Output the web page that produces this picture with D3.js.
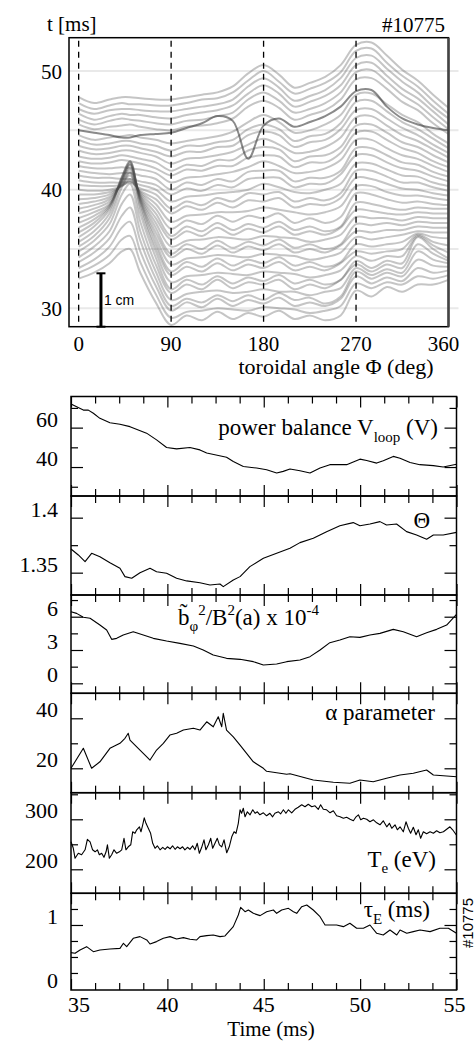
<!DOCTYPE html>
<html>
<head>
<meta charset="utf-8">
<script src="https://cdn.jsdelivr.net/npm/d3@7"></script>
<style>
  body { margin: 0; background: #fff; }
</style>
</head>
<body>
<svg id="chart" width="475" height="1041"></svg>
<script>
// ---------- waterfall: toroidal displacement vs angle, stacked by time ----------
const angleGrid = [0,15,30,42,50,60,75,90,105,120,135,150,165,180,195,210,225,240,255,270,285,300,315,330,345,360];
const traceTimes = [30,30.5,31,31.5,32,32.5,33,33.5,34,34.5,35,35.5,36,36.5,37,37.5,38,38.5,39,39.5,40,40.5,41,41.5,42,42.5,43,43.5,44,44.5,45,45.5,46,46.5,47,47.5,48];
// displacement of each trace, in time-axis units (1 cm = 4.5 ms)
const traceShift = [
  [2.5,3.0,3.8,4.8,5.0,3.0,0.5,-1.4,-0.6,-1.0,-0.3,-0.9,-0.4,-0.7,-0.2,-0.9,-0.6,-1.0,-0.6,1.5,1.0,1.8,1.4,2.0,2.0,2.4],
  [2.5,3.1,4.0,5.3,5.6,3.4,0.7,-1.3,-0.8,-0.7,-0.5,-0.6,-0.7,-0.4,-0.5,-0.6,-0.9,-0.7,-0.3,1.6,1.2,1.7,1.5,2.2,2.0,2.3],
  [2.4,3.1,4.2,5.8,6.3,3.8,0.9,-1.2,-0.5,-0.9,-0.2,-0.8,-0.3,-0.6,-0.1,-0.8,-0.5,-0.8,-0.2,1.7,1.1,1.6,1.3,2.4,2.0,2.2],
  [2.4,3.2,4.4,6.3,7.0,4.2,1.0,-1.3,-0.7,-1.0,-0.4,-0.9,-0.4,-0.8,-0.2,-0.8,-0.6,-1.1,-0.5,1.6,1.0,1.5,1.2,2.6,2.1,2.0],
  [2.3,3.2,4.5,6.8,7.6,4.5,1.1,-1.3,-0.8,-0.6,-0.5,-0.7,-0.6,-0.4,-0.6,-0.6,-0.9,-0.6,-0.3,1.4,0.8,1.3,1.0,2.8,2.1,1.8],
  [2.3,3.2,4.6,7.1,8.0,4.8,1.2,-1.2,-0.5,-0.9,-0.1,-0.8,-0.3,-0.5,-0.1,-0.9,-0.5,-0.8,-0.1,1.2,0.6,1.2,0.9,2.9,2.1,1.5],
  [2.2,3.1,4.6,7.2,8.4,5.0,1.3,-1.4,-0.6,-1.0,-0.3,-0.9,-0.4,-0.7,-0.2,-0.9,-0.6,-1.0,-0.6,1.0,0.4,1.0,0.8,3.0,2.0,1.2],
  [2.1,3.0,4.5,7.2,8.6,5.0,1.3,-1.3,-0.8,-0.7,-0.5,-0.6,-0.7,-0.4,-0.5,-0.6,-0.9,-0.7,-0.3,0.9,0.5,0.9,0.9,2.6,1.8,1.2],
  [2.0,2.9,4.3,7.0,8.4,4.8,1.2,-1.2,-0.5,-0.9,-0.2,-0.8,-0.3,-0.6,-0.1,-0.8,-0.5,-0.8,-0.2,0.8,0.6,0.8,1.0,2.2,1.6,1.3],
  [1.9,2.7,4.0,6.6,7.9,4.5,1.1,-1.4,-0.6,-1.0,-0.3,-0.9,-0.4,-0.7,-0.2,-0.9,-0.6,-1.0,-0.6,0.9,0.7,0.9,1.1,1.8,1.5,1.4],
  [1.8,2.5,3.6,6.0,7.3,4.1,1.0,-1.3,-0.8,-0.7,-0.5,-0.6,-0.7,-0.4,-0.5,-0.6,-0.9,-0.7,-0.3,1.0,0.8,1.0,1.2,1.5,1.4,1.4],
  [1.7,2.3,3.2,5.4,6.7,3.7,0.9,-1.2,-0.5,-0.9,-0.2,-0.8,-0.3,-0.6,-0.1,-0.8,-0.5,-0.8,-0.2,1.0,0.9,1.1,1.1,1.4,1.3,1.3],
  [1.6,2.1,2.8,4.8,6.1,3.3,0.8,-1.4,-0.6,-1.0,-0.3,-0.9,-0.4,-0.7,-0.2,-0.9,-0.6,-1.0,-0.6,1.1,1.0,1.2,1.0,1.3,1.2,1.2],
  [1.5,1.9,2.5,4.2,5.4,2.9,0.7,-1.3,-0.8,-0.7,-0.5,-0.6,-0.7,-0.4,-0.5,-0.6,-0.9,-0.7,-0.3,1.2,1.1,1.1,0.9,1.2,1.1,1.1],
  [1.4,1.7,2.2,3.6,4.7,2.5,0.6,-1.2,-0.5,-0.9,-0.2,-0.8,-0.3,-0.6,-0.1,-0.8,-0.5,-0.8,-0.2,1.3,1.2,1.0,0.9,1.1,1.0,1.0],
  [1.3,1.5,1.9,3.0,4.0,2.1,0.5,-1.4,-0.6,-1.0,-0.3,-0.9,-0.4,-0.7,-0.2,-0.9,-0.6,-1.0,-0.6,1.4,1.3,1.0,0.8,1.0,0.9,0.9],
  [1.2,1.3,1.6,2.4,3.2,1.7,0.4,-1.3,-0.6,-0.9,-0.2,-0.7,-0.2,-0.4,0.0,-0.8,-0.4,-0.8,-0.3,1.7,1.6,1.2,0.9,1.0,0.8,0.7],
  [1.1,1.1,1.3,1.8,2.4,1.3,0.3,-1.2,-0.7,-0.6,-0.4,-0.4,-0.3,0.0,-0.2,-0.4,-0.6,-0.4,0.1,1.8,1.8,1.3,1.0,1.0,0.8,0.6],
  [1.0,0.9,1.0,1.3,1.7,0.9,0.2,-1.0,-0.4,-0.7,-0.1,-0.5,0.1,0.0,0.3,-0.5,-0.2,-0.3,0.3,2.0,1.9,1.5,1.1,1.0,0.7,0.5],
  [0.9,0.8,0.8,0.9,1.1,0.6,0.1,-1.1,-0.5,-0.8,-0.2,-0.5,0.2,0.1,0.3,-0.5,-0.2,-0.4,0.2,2.1,2.1,1.6,1.1,1.1,0.7,0.4],
  [0.8,0.6,0.6,0.6,0.7,0.4,0.0,-1.0,-0.6,-0.5,-0.3,-0.2,0.0,0.5,0.2,-0.2,-0.3,0.0,0.5,2.2,2.2,1.7,1.2,1.1,0.6,0.3],
  [0.7,0.5,0.5,0.4,0.4,0.2,-0.1,-0.9,-0.4,-0.6,-0.1,-0.3,0.4,0.5,0.5,-0.3,0.0,0.0,0.8,2.4,2.4,1.8,1.3,1.1,0.6,0.2],
  [0.6,0.4,0.3,0.4,0.4,0.2,-0.1,-1.0,-0.4,-0.6,-0.1,-0.3,0.5,0.6,0.6,-0.3,0.0,0.0,0.6,2.5,2.5,1.9,1.3,1.1,0.5,0.1],
  [0.5,0.3,0.3,0.4,0.3,0.2,-0.1,-0.9,-0.5,-0.4,-0.2,0.0,0.4,0.9,0.5,-0.1,0.0,0.3,1.0,2.7,2.7,2.0,1.4,1.1,0.5,0.0],
  [0.4,0.2,0.3,0.5,0.4,0.2,-0.2,-0.8,-0.3,-0.4,0.0,0.0,0.7,0.9,0.8,-0.1,0.3,0.3,1.1,2.8,2.9,2.2,1.5,1.1,0.4,-0.1],
  [0.3,0.1,0.2,0.4,0.3,0.1,-0.2,-0.9,-0.4,-0.5,0.0,0.0,0.8,1.1,0.9,-0.1,0.3,0.4,1.1,2.9,3.0,2.3,1.5,1.1,0.4,-0.2],
  [0.3,0.0,0.1,0.3,0.3,0.1,-0.2,-0.8,-0.4,-0.3,-0.1,0.2,0.8,1.3,0.8,0.1,0.2,0.6,1.4,3.1,3.2,2.4,1.6,1.1,0.4,-0.3],
  [0.2,-0.1,0.0,0.2,0.2,0.0,-0.3,-0.7,-0.3,-0.3,0.1,0.2,1.1,1.4,1.1,0.1,0.5,0.7,1.6,3.2,3.3,2.5,1.7,1.1,0.3,-0.4],
  [0.2,-0.2,-0.1,0.1,0.1,-0.1,-0.3,-0.7,-0.3,-0.3,0.0,0.2,1.1,1.5,1.1,0.1,0.5,0.7,1.6,3.4,3.5,2.6,1.7,1.1,0.3,-0.5],
  [0.1,-0.3,-0.1,0.0,0.1,-0.1,-0.3,-0.6,-0.4,-0.2,0.0,0.4,1.2,1.8,1.2,0.3,0.5,1.0,1.8,3.5,3.6,2.7,1.8,1.2,0.2,-0.6],
  [0.0,-0.2,-0.4,-0.6,-0.6,-0.4,-0.3,-0.2,0.2,0.6,1.2,0.8,-2.4,0.4,1.0,0.3,0.7,1.2,2.0,3.3,3.4,2.0,1.0,0.5,0.2,0.0],
  [0.0,-0.4,-0.2,-0.1,0.0,-0.2,-0.4,-0.5,-0.2,-0.1,0.1,0.5,1.5,2.0,1.4,0.4,0.8,1.2,2.1,3.8,3.9,3.0,1.9,1.2,0.1,-0.8],
  [-0.1,-0.5,-0.2,0.0,-0.1,-0.2,-0.4,-0.5,-0.2,-0.1,0.2,0.5,1.6,2.2,1.5,0.5,0.8,1.3,2.2,3.9,4.1,3.1,2.0,1.2,0.1,-0.9],
  [-0.1,-0.6,-0.3,-0.1,-0.2,-0.2,-0.4,-0.5,-0.2,0.0,0.2,0.6,1.6,2.3,1.6,0.5,0.9,1.4,2.3,4.0,4.2,3.1,2.0,1.2,0.1,-1.0],
  [-0.2,-0.6,-0.3,-0.2,-0.2,-0.3,-0.4,-0.4,-0.2,0.0,0.2,0.6,1.7,2.4,1.6,0.5,0.9,1.4,2.4,4.1,4.3,3.2,2.1,1.2,0.0,-1.0],
  [-0.2,-0.7,-0.4,-0.2,-0.3,-0.3,-0.4,-0.4,-0.2,0.1,0.2,0.7,1.7,2.5,1.6,0.6,1.0,1.5,2.4,4.2,4.4,3.2,2.1,1.2,0.0,-1.1],
  [-0.2,-0.7,-0.4,-0.2,-0.2,-0.3,-0.4,-0.4,-0.2,0.0,0.2,0.7,1.8,2.5,1.7,0.6,1.0,1.5,2.5,4.2,4.4,3.3,2.1,1.2,0.0,-1.1]
];
const angleTicks = [0, 90, 180, 270, 360];
const probeAngles = [0, 90, 180, 270];
const waterfallGrid = [30, 35, 40, 45, 50];
const waterfallTickLabels = [30, 40, 50];

// ---------- time traces, shot #10775 ----------
const vloop = [[35.0,72.0],[35.64,68.9],[35.9,68.9],[36.16,67.3],[36.5,64.7],[37.02,62.5],[37.54,61.7],[38.06,60.5],[38.92,57.2],[39.44,53.8],[39.96,49.9],[40.48,49.2],[41.17,49.9],[41.69,48.7],[42.04,47.1],[43.07,45.0],[43.42,42.8],[43.94,40.3],[44.63,39.5],[45.15,38.6],[45.67,37.0],[46.01,37.8],[46.36,39.0],[46.88,38.1],[47.4,37.0],[47.92,39.5],[48.43,41.2],[49.3,41.2],[49.99,44.0],[50.34,43.3],[50.86,42.0],[51.2,43.2],[51.72,45.4],[52.07,44.5],[52.59,42.3],[53.1,41.2],[53.8,40.7],[54.31,40.0],[55.0,41.4]];
const theta = [[35.0,1.3715],[35.38,1.3661],[35.73,1.3600],[36.07,1.3676],[36.5,1.3645],[37.02,1.3591],[37.54,1.3540],[37.8,1.3464],[38.15,1.3449],[38.58,1.3500],[39.1,1.3540],[39.44,1.3509],[39.96,1.3495],[40.48,1.3449],[41.0,1.3425],[41.69,1.3409],[42.21,1.3388],[42.73,1.3397],[42.9,1.3373],[43.42,1.3434],[43.77,1.3464],[44.28,1.3555],[44.98,1.3631],[45.67,1.3676],[46.36,1.3722],[46.88,1.3773],[47.57,1.3813],[48.26,1.3873],[48.95,1.3927],[49.64,1.3955],[49.99,1.3927],[50.51,1.3943],[51.03,1.3964],[51.37,1.3934],[51.89,1.3943],[52.41,1.3873],[52.93,1.3843],[53.45,1.3804],[53.8,1.3843],[54.31,1.3843],[55.0,1.3866]];
const bPhi = [[35.0,6.45],[35.29,6.3],[35.64,5.95],[35.99,5.86],[36.5,5.25],[36.85,4.8],[37.11,3.96],[37.37,4.05],[37.71,4.35],[38.23,4.65],[38.75,4.35],[39.27,4.05],[39.96,3.81],[40.65,3.6],[41.35,3.36],[41.86,3.0],[42.38,2.55],[43.07,2.25],[43.77,2.16],[44.46,1.95],[44.98,1.65],[45.67,1.74],[46.19,1.95],[46.88,2.1],[47.4,2.4],[47.92,3.0],[48.43,3.66],[48.95,3.9],[49.47,4.2],[49.99,4.14],[50.51,4.35],[51.03,4.5],[51.72,4.86],[52.24,4.65],[52.93,4.2],[53.45,4.56],[53.97,4.86],[54.49,5.25],[55.0,6.2]];
const alphaParam = [[35.0,20.0],[35.64,28.0],[36.07,20.0],[36.5,22.6],[37.02,28.0],[37.54,30.0],[37.8,32.0],[37.97,34.0],[38.06,31.3],[38.41,28.6],[38.75,26.0],[39.1,23.3],[39.44,27.3],[39.79,30.0],[40.13,33.3],[40.48,34.0],[40.83,35.3],[41.35,36.0],[41.69,35.3],[42.04,38.6],[42.38,36.6],[42.64,40.6],[42.82,36.6],[42.9,42.0],[43.07,35.3],[43.42,32.6],[43.77,29.3],[44.11,26.0],[44.46,22.6],[44.98,20.0],[45.15,18.8],[45.67,18.2],[46.19,17.6],[46.36,17.8],[47.57,15.3],[48.61,14.4],[49.47,14.0],[49.99,15.3],[50.68,14.6],[51.37,16.0],[52.07,17.3],[52.76,18.0],[53.45,19.3],[53.8,17.3],[55.0,16.6]];
const electronTemp = [[35.0,255],[35.12,242],[35.21,222],[35.38,232],[35.55,229],[35.73,239],[35.85,260],[35.99,255],[36.12,239],[36.25,235],[36.37,239],[36.47,229],[36.59,232],[36.71,224],[36.82,235],[36.89,249],[36.99,222],[37.11,229],[37.23,239],[37.37,232],[37.51,235],[37.63,239],[37.75,262],[37.85,239],[37.97,245],[38.10,249],[38.20,275],[38.32,272],[38.41,279],[38.55,285],[38.63,275],[38.72,289],[38.80,303],[38.89,292],[39.01,282],[39.13,272],[39.24,252],[39.36,242],[39.48,247],[39.62,239],[39.76,244],[39.88,240],[40.00,245],[40.14,241],[40.27,247],[40.40,240],[40.52,245],[40.66,241],[40.79,245],[40.91,239],[41.04,244],[41.17,240],[41.31,247],[41.43,239],[41.55,252],[41.66,232],[41.78,244],[41.90,259],[42.00,239],[42.13,249],[42.25,262],[42.35,242],[42.47,252],[42.59,262],[42.70,249],[42.82,245],[42.94,259],[43.08,233],[43.21,245],[43.34,265],[43.46,275],[43.56,272],[43.68,292],[43.77,319],[43.85,312],[43.94,322],[44.03,305],[44.15,315],[44.29,309],[44.43,319],[44.55,312],[44.67,315],[44.80,309],[44.98,313],[45.15,307],[45.32,312],[45.46,305],[45.58,312],[45.76,315],[45.88,311],[46.02,319],[46.15,312],[46.28,319],[46.45,313],[46.62,320],[46.79,324],[46.97,329],[47.14,325],[47.31,330],[47.49,325],[47.66,327],[47.83,320],[47.95,329],[48.09,320],[48.26,319],[48.44,313],[48.61,317],[48.78,307],[48.96,305],[49.13,302],[49.30,304],[49.48,300],[49.65,297],[49.79,305],[49.91,309],[50.03,299],[50.17,302],[50.34,300],[50.51,295],[50.69,299],[50.86,293],[51.03,289],[51.20,297],[51.38,285],[51.52,292],[51.64,282],[51.81,289],[51.93,279],[52.07,285],[52.24,275],[52.38,295],[52.50,282],[52.62,272],[52.76,284],[52.90,269],[53.02,279],[53.14,262],[53.28,275],[53.45,271],[53.63,275],[53.80,272],[53.97,277],[54.14,273],[54.32,275],[54.49,280],[54.66,285],[54.80,279],[55.0,268]];
const tauE = [[35.0,0.568],[35.21,0.557],[35.47,0.609],[35.81,0.661],[36.16,0.583],[36.50,0.609],[37.02,0.625],[37.54,0.635],[37.72,0.714],[37.89,0.661],[38.23,0.792],[38.58,0.818],[38.93,0.766],[39.10,0.703],[39.44,0.740],[39.79,0.792],[40.14,0.818],[40.48,0.781],[40.83,0.802],[41.17,0.776],[41.52,0.766],[41.69,0.818],[42.04,0.833],[42.38,0.844],[42.73,0.818],[42.99,0.828],[43.42,0.974],[43.68,1.156],[43.80,1.276],[44.03,1.208],[44.20,1.234],[44.46,1.182],[44.81,1.146],[45.15,1.208],[45.50,1.234],[45.67,1.182],[45.93,1.234],[46.28,1.260],[46.54,1.208],[46.71,1.182],[46.97,1.286],[47.23,1.313],[47.57,1.234],[47.92,1.130],[48.18,1.000],[48.44,1.000],[48.78,1.000],[49.13,0.974],[49.47,1.026],[49.82,0.948],[50.17,0.948],[50.51,1.000],[50.86,0.870],[51.20,0.844],[51.55,0.922],[51.90,0.844],[52.07,0.922],[52.42,0.870],[52.76,0.896],[53.11,0.922],[53.63,0.896],[54.14,0.948],[54.58,0.948],[55.0,0.870]];
const timeTickLabels = [35, 40, 45, 50, 55];

// ---------- drawing ----------
const SERIF = "Liberation Serif, Times New Roman, serif";
const SANS = "Liberation Sans, Arial, sans-serif";
const svg = d3.select("#chart");
const txt = (parent) => parent.append("text").attr("font-family", SERIF).attr("fill", "#000");

// waterfall panel
const W = { left: 69, right: 448.5, top: 37.7, bottom: 326.7 };
const xAng = d3.scaleLinear().domain([-9.4, 360]).range([W.left, W.right]);
const yT = d3.scaleLinear().domain([28.45, 52.81]).range([W.bottom, W.top]);
const MS_PER_CM = 4.5;

svg.append("defs").append("clipPath").attr("id", "wclip")
  .append("rect").attr("x", W.left).attr("y", W.top)
  .attr("width", W.right - W.left).attr("height", W.bottom - W.top);

svg.append("g").selectAll("line").data(waterfallGrid).join("line")
  .attr("x1", W.left).attr("x2", W.right + 10)
  .attr("y1", d => yT(d)).attr("y2", d => yT(d))
  .attr("stroke", "#e9e9e9").attr("stroke-width", 2);

const traceLine = d3.line()
  .x((d, i) => xAng(angleGrid[i]))
  .y(d => yT(d))
  .curve(d3.curveCatmullRom.alpha(0.5));

const emphasised = new Set([45]);
const traces = traceTimes.map((t, k) => ({ t, pts: traceShift[k].map(s => t + s) }));
svg.append("g").attr("clip-path", "url(#wclip)")
  .selectAll("path").data(traces).join("path")
  .attr("d", d => traceLine(d.pts))
  .attr("fill", "none")
  .attr("stroke", d => emphasised.has(d.t) ? "#2a2a2a" : "#4a4a4a")
  .attr("stroke-opacity", d => emphasised.has(d.t) ? 0.55 : 0.32)
  .attr("stroke-width", 2)
  .attr("stroke-linejoin", "round");

svg.append("g").selectAll("line").data(probeAngles).join("line")
  .attr("x1", d => xAng(d)).attr("x2", d => xAng(d))
  .attr("y1", W.top + 3).attr("y2", W.bottom)
  .attr("stroke", "#000").attr("stroke-width", 1.3).attr("stroke-dasharray", "6,5");

svg.append("rect").attr("x", W.left).attr("y", W.top)
  .attr("width", W.right - W.left).attr("height", W.bottom - W.top)
  .attr("fill", "none").attr("stroke", "#000").attr("stroke-width", 1.5);
svg.append("line").attr("x1", W.right).attr("x2", W.right).attr("y1", W.top).attr("y2", W.bottom)
  .attr("stroke", "#444").attr("stroke-width", 2.5);

// 1 cm scale bar
const barAngle = 21.7, barStart = 28.45;
const bar = svg.append("g").attr("stroke", "#000");
bar.append("line").attr("x1", xAng(barAngle)).attr("x2", xAng(barAngle))
  .attr("y1", yT(barStart)).attr("y2", yT(barStart + MS_PER_CM)).attr("stroke-width", 3);
[barStart, barStart + MS_PER_CM].forEach(v => {
  bar.append("line").attr("x1", xAng(barAngle) - 4.5).attr("x2", xAng(barAngle) + 4.5)
    .attr("y1", yT(v)).attr("y2", yT(v)).attr("stroke-width", 2);
});
svg.append("text").attr("x", xAng(barAngle) + 3).attr("y", 304.5)
  .attr("font-family", SANS).attr("font-size", 14).attr("fill", "#000").text("1 cm");

angleTicks.forEach(d => {
  txt(svg).attr("x", xAng(d) + (d === 360 ? -5 : 0)).attr("y", 350.5)
    .attr("text-anchor", "middle").attr("font-size", 21).text(d);
});
waterfallTickLabels.forEach(d => {
  txt(svg).attr("x", 62).attr("y", yT(d) + 7.5)
    .attr("text-anchor", "end").attr("font-size", 21).text(d);
});
txt(svg).attr("x", 47).attr("y", 31).attr("font-size", 21).text("t [ms]");
txt(svg).attr("x", 445).attr("y", 31.5).attr("text-anchor", "end")
  .attr("font-size", 21).text("#10775");
txt(svg).attr("x", 336).attr("y", 374).attr("text-anchor", "middle")
  .attr("font-size", 22).text("toroidal angle \u03A6 (deg)");

// stacked time panels
const X0 = 71, X1 = 456.5;
const xTime = d3.scaleLinear().domain([35, 55]).range([X0, X1]);
const panels = [
  { data: vloop, top: 396.5, bottom: 496, domain: [25.3, 75.8], ticks: [30,40,50,60,70], labels: [40,60], fmt: d => d },
  { data: theta, top: 496, bottom: 595, domain: [1.3297, 1.4197], ticks: [1.35,1.375,1.4], labels: [1.35,1.4], fmt: d => d === 1.4 ? "1.4" : "1.35" },
  { data: bPhi, top: 595, bottom: 693.3, domain: [-0.9, 7.955], ticks: [0,1.5,3,4.5,6,7.5], labels: [0,3,6], fmt: d => d },
  { data: alphaParam, top: 693.3, bottom: 792.7, domain: [10.24, 50], ticks: [20,30,40], labels: [20,40], fmt: d => d },
  { data: electronTemp, top: 792.7, bottom: 893.3, domain: [152, 353.2], ticks: [200,250,300,350], labels: [200,300], fmt: d => d },
  { data: tauE, top: 893.3, bottom: 990, domain: [-0.016, 1.495], ticks: [0.25,0.5,0.75,1,1.25], labels: [0,1], fmt: d => d }
];
const minorTime = d3.range(35, 55.01, 1.25).filter(v => v % 5 !== 0);
const majorTime = d3.range(35, 55.01, 5);

panels.forEach(p => {
  const y = d3.scaleLinear().domain(p.domain).range([p.bottom, p.top]);
  const g = svg.append("g");
  const tickAxis = (axis, size, vals, tr) => {
    const a = g.append("g").attr("transform", tr)
      .call(axis.tickValues(vals).tickSize(size).tickSizeOuter(0).tickFormat(""));
    a.select(".domain").remove();
    a.selectAll("line").attr("stroke", "#000").attr("stroke-width", 1.2);
  };
  tickAxis(d3.axisBottom(xTime), -7, minorTime, `translate(0,${p.bottom})`);
  tickAxis(d3.axisBottom(xTime), -11, majorTime, `translate(0,${p.bottom})`);
  tickAxis(d3.axisTop(xTime), -7, minorTime, `translate(0,${p.top})`);
  tickAxis(d3.axisTop(xTime), -11, majorTime, `translate(0,${p.top})`);
  const minorY = p.ticks.filter(v => !p.labels.includes(v));
  const majorY = p.ticks.filter(v => p.labels.includes(v));
  tickAxis(d3.axisLeft(y), -7, minorY, `translate(${X0},0)`);
  tickAxis(d3.axisLeft(y), -12, majorY, `translate(${X0},0)`);
  tickAxis(d3.axisRight(y), -7, minorY, `translate(${X1},0)`);
  tickAxis(d3.axisRight(y), -12, majorY, `translate(${X1},0)`);

  g.append("path").datum(p.data)
    .attr("d", d3.line().x(d => xTime(d[0])).y(d => y(d[1])))
    .attr("fill", "none").attr("stroke", "#000").attr("stroke-width", 1.1)
    .attr("stroke-linejoin", "round");

  g.append("rect").attr("x", X0).attr("y", p.top).attr("width", X1 - X0).attr("height", p.bottom - p.top)
    .attr("fill", "none").attr("stroke", "#000").attr("stroke-width", 1.5);

  p.labels.forEach(d => {
    txt(g).attr("x", 58).attr("y", y(d) - 1)
      .attr("text-anchor", "end").attr("font-size", 22).text(p.fmt(d));
  });
});

// panel titles
const title = (x, yb, anchor) => txt(svg).attr("x", x).attr("y", yb)
  .attr("text-anchor", anchor).attr("font-size", 23);
{
  const t = title(438, 435, "end");
  t.append("tspan").text("power balance V");
  t.append("tspan").attr("dy", 7).attr("font-size", 15).text("loop");
  t.append("tspan").attr("dy", -7).text(" (V)");
}
title(430, 528, "end").text("\u0398");
{
  const t = title(178, 625, "start");
  t.append("tspan").text("b\u0303");
  t.append("tspan").attr("dy", 6).attr("font-size", 15).text("\u03C6");
  t.append("tspan").attr("dy", -16).attr("font-size", 15).text("2");
  t.append("tspan").attr("dy", 10).text("/B");
  t.append("tspan").attr("dy", -10).attr("font-size", 15).text("2");
  t.append("tspan").attr("dy", 10).text("(a) x 10");
  t.append("tspan").attr("dy", -10).attr("font-size", 15).text("-4");
}
title(435, 720, "end").text("\u03B1 parameter");
{
  const t = title(436, 867, "end");
  t.append("tspan").text("T");
  t.append("tspan").attr("dy", 6).attr("font-size", 15).text("e");
  t.append("tspan").attr("dy", -6).text(" (eV)");
}
{
  const t = title(430, 917, "end");
  t.append("tspan").text("\u03C4");
  t.append("tspan").attr("dy", 7).attr("font-size", 15).text("E");
  t.append("tspan").attr("dy", -7).text(" (ms)");
}

// time axis labels
timeTickLabels.forEach(d => {
  txt(svg).attr("x", xTime(d) + (d === 35 ? 8 : d === 55 ? -2 : 0)).attr("y", 1012)
    .attr("text-anchor", "middle").attr("font-size", 22).text(d);
});
txt(svg).attr("x", 271).attr("y", 1036.3).attr("text-anchor", "middle")
  .attr("font-size", 21).text("Time (ms)");

svg.append("text").attr("transform", "translate(473,923) rotate(-90)")
  .attr("text-anchor", "middle").attr("font-family", SANS).attr("font-size", 15)
  .attr("fill", "#000").text("#10775");
</script>
</body>
</html>
